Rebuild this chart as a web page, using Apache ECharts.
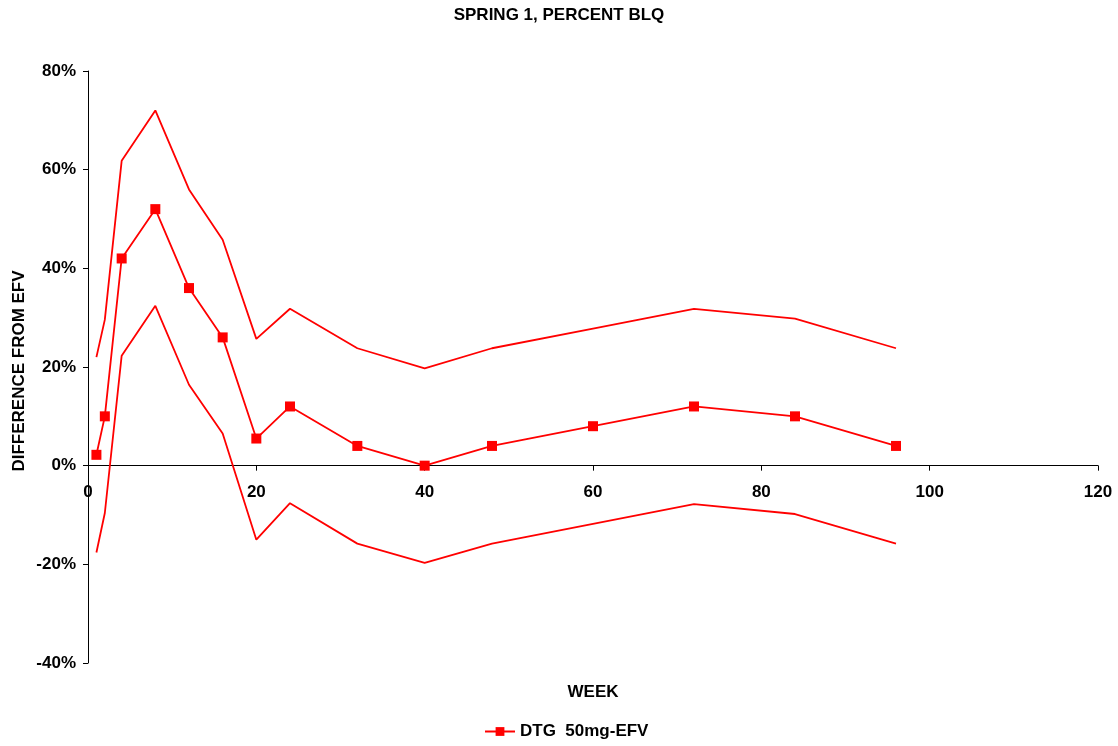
<!DOCTYPE html>
<html>
<head>
<meta charset="utf-8">
<script src="https://cdn.jsdelivr.net/npm/echarts@6/dist/echarts.min.js"></script>
<style>
html,body{margin:0;padding:0;background:#fff;}
#chart{width:1118px;height:746px;}
</style>
</head>
<body>
<div id="chart"></div>
<script>
const weeks = [1, 2, 4, 8, 12, 16, 20, 24, 32, 40, 48, 60, 72, 84, 96];
const meanDiff = [2.2, 10, 42, 52, 36, 26, 5.5, 12, 4, 0, 4, 8, 12, 10, 4];
const upperCI = [22, 29.6, 61.8, 72, 56, 45.8, 25.7, 31.8, 23.8, 19.7, 23.8, 27.8, 31.8, 29.8, 23.8];
const lowerCI = [-17.6, -9.6, 22.3, 32.4, 16.4, 6.5, -15, -7.6, -15.8, -19.7, -15.8, -11.8, -7.8, -9.8, -15.8];
const seriesName = 'DTG  50mg-EFV';
const titleText = 'SPRING 1, PERCENT BLQ';
const xTitle = 'WEEK';
const yTitle = 'DIFFERENCE FROM EFV';

const FONT = 'Liberation Sans, Arial, sans-serif';
const RED = '#ff0000';
const pair = (xs, ys) => xs.map((x, i) => [x, ys[i]]);

const GRID_TOP = 71, GRID_BOTTOM = 83, H = 746;
const plotH = H - GRID_TOP - GRID_BOTTOM;
// distance from bottom of plot to the 0% line (y from -40 to 80)
const zeroOffset = plotH * (40 / 120);

const chart = echarts.init(document.getElementById('chart'), null, {renderer: 'canvas'});
chart.setOption({
  animation: false,
  backgroundColor: '#fff',
  title: {
    text: titleText, left: 'center', top: 2,
    textStyle: {fontFamily: FONT, fontWeight: 'bold', fontSize: 17, color: '#000'}
  },
  grid: {left: 88, right: 20, top: GRID_TOP, bottom: GRID_BOTTOM, containLabel: false},
  legend: {
    bottom: 1, left: 479,
    data: [seriesName],
    itemWidth: 30, itemHeight: 11, itemGap: 6,
    textStyle: {fontFamily: FONT, fontWeight: 'bold', fontSize: 17, color: '#000'}
  },
  xAxis: {
    type: 'value', min: 0, max: 120, interval: 20,
    offset: -zeroOffset,
    axisLine: {onZero: false, lineStyle: {color: '#000', width: 1}},
    axisTick: {show: true, length: 5, inside: false, lineStyle: {color: '#000'}},
    axisLabel: {fontFamily: FONT, fontWeight: 'bold', fontSize: 17, color: '#000', margin: 18},
    splitLine: {show: false}
  },
  yAxis: {
    type: 'value', min: -40, max: 80, interval: 20,
    axisLine: {show: true, lineStyle: {color: '#000', width: 1}},
    axisTick: {show: true, length: 5, lineStyle: {color: '#000'}},
    axisLabel: {fontFamily: FONT, fontWeight: 'bold', fontSize: 17, color: '#000', margin: 12,
      formatter: v => v + '%'},
    splitLine: {show: false}
  },
  graphic: [
    {type: 'text', x: 593, y: 692,
      style: {text: xTitle, font: 'bold 17px ' + FONT, fill: '#000', align: 'center', verticalAlign: 'middle'}},
    {type: 'text', x: 19, y: 371, rotation: Math.PI / 2,
      style: {text: yTitle, font: 'bold 17px ' + FONT, fill: '#000', align: 'center', verticalAlign: 'middle'}}
  ],
  series: [
    {
      name: seriesName, type: 'line', data: pair(weeks, meanDiff),
      symbol: 'rect', symbolSize: 10, showAllSymbol: true,
      lineStyle: {color: RED, width: 1.8}, itemStyle: {color: RED}, z: 3
    },
    {
      name: 'upper', type: 'line', data: pair(weeks, upperCI), symbol: 'none',
      lineStyle: {color: RED, width: 1.8}, itemStyle: {color: RED}
    },
    {
      name: 'lower', type: 'line', data: pair(weeks, lowerCI), symbol: 'none',
      lineStyle: {color: RED, width: 1.8}, itemStyle: {color: RED}
    }
  ]
});
</script>
</body>
</html>
